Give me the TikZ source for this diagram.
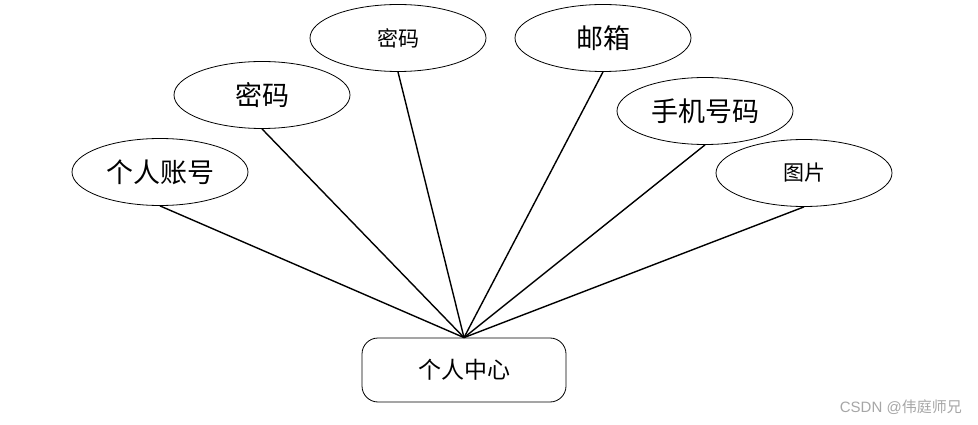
\documentclass[tikz,border=0pt]{standalone}
\usepackage{fontspec}
\newfontfamily\cjk{Noto Sans CJK SC}
\usetikzlibrary{shapes.geometric,positioning}

\begin{document}
\begin{tikzpicture}[
        x=1pt, y=-1pt,
        attr/.style={draw, ellipse, minimum width=176pt, minimum height=67pt, inner sep=0pt, line width=0.8pt, font=\cjk\fontsize{27}{31}\selectfont},
        attrsmall/.style={attr, font=\cjk\fontsize{21}{25}\selectfont},
        entity/.style={draw, rounded corners=16pt, minimum width=204pt, minimum height=64pt, inner sep=0pt, line width=0.8pt, font=\cjk\fontsize{23}{27}\selectfont},
        link/.style={line width=1.4pt}
    ]
        \useasboundingbox (0,0) rectangle (978,425);

        \node[entity] (center) at (464,370) {个人中心};

        \node[attr] (account) at (160,172) {个人账号};
        \node[attr] (pwdleft) at (262,95) {密码};
        \node[attrsmall] (pwdtop) at (398,38) {密码};
        \node[attr] (email) at (603,38) {邮箱};
        \node[attr] (phone) at (705,111) {手机号码};
        \node[attrsmall] (photo) at (804,173) {图片};

        \foreach \n in {account, pwdleft, pwdtop, email, phone, photo}
            \draw[link] (\n.south) -- (center.north);

        \node[text=gray!70, font=\fontspec{Liberation Sans}\fontsize{15}{17}\selectfont, anchor=east, inner sep=0pt] (mark) at (962,407) {CSDN @{\cjk 伟庭师兄}};
    \end{tikzpicture}
\end{document}
